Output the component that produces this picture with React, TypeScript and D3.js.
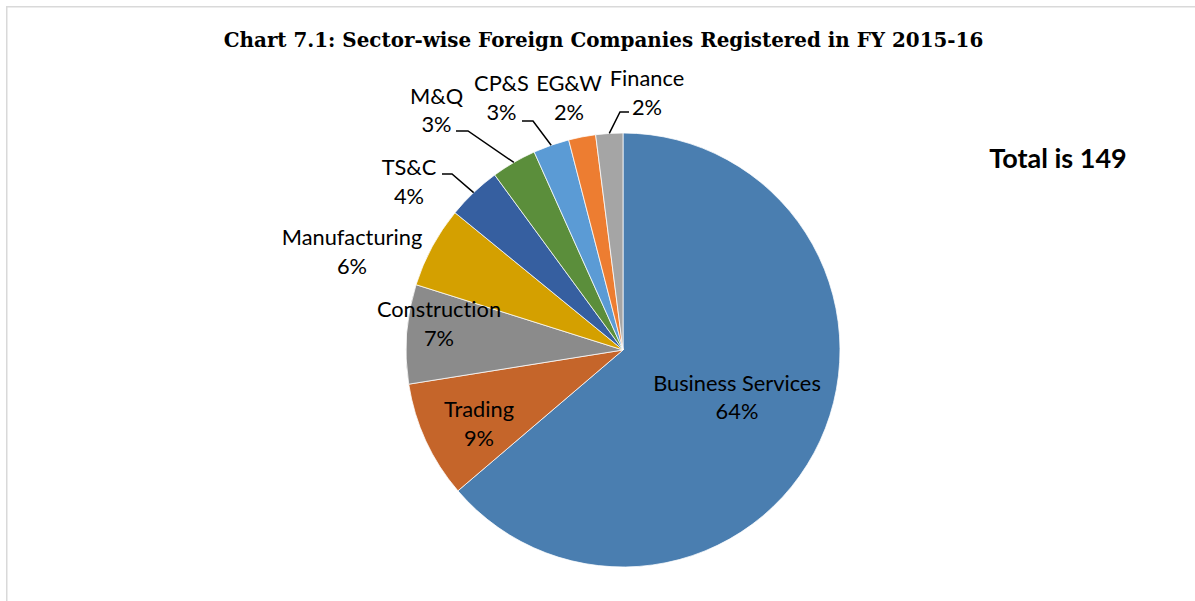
import React, { useEffect, useRef } from "react";
import * as d3 from "d3";

const categories = [
  "Business Services",
  "Trading",
  "Construction",
  "Manufacturing",
  "TS&C",
  "M&Q",
  "CP&S",
  "EG&W",
  "Finance",
];
const counts = [95, 13, 11, 9, 6, 5, 4, 3, 3];
const sliceColors = [
  "#4a7eb0",
  "#c5652a",
  "#8b8b8b",
  "#d4a000",
  "#365fa0",
  "#5b8e3b",
  "#5b9bd5",
  "#ed7d31",
  "#a5a5a5",
];
const titleText = "Chart 7.1: Sector-wise Foreign Companies Registered in FY 2015-16";
const totalText = "Total is 149";

// label layout: centre x, baseline of first line, optional leader (horizontal segment x1->x2 at y)
const labelLayout = [
  { x: 737, y: 390.5 },
  { x: 479, y: 417 },
  { x: 439, y: 317 },
  { x: 352, y: 245 },
  { x: 409, y: 175, leader: { x1: 442, x2: 452, y: 174 } },
  { x: 436.5, y: 103.5, leader: { x1: 456, x2: 468, y: 131 } },
  { x: 501.5, y: 91, leader: { x1: 522, x2: 533, y: 121 } },
  { x: 569, y: 91 },
  { x: 647, y: 86, leader: { x1: 629, x2: 620, y: 112 } },
];

const W = 1195;
const H = 601;
const CX = 623;
const CY = 350;
const R = 217;
const LINE = 28.5;
const FONT = "Lato, 'Open Sans', sans-serif";

export default function App() {
  const ref = useRef<SVGSVGElement | null>(null);

  useEffect(() => {
    const svg = d3.select(ref.current);
    svg.selectAll("*").remove();

    svg
      .append("rect")
      .attr("x", 0)
      .attr("y", 0)
      .attr("width", W)
      .attr("height", H)
      .attr("fill", "#fff");

    svg
      .append("rect")
      .attr("x", 6.75)
      .attr("y", 6.75)
      .attr("width", W + 100)
      .attr("height", H + 100)
      .attr("fill", "none")
      .attr("stroke", "#d9d9d9")
      .attr("stroke-width", 1.5);

    svg
      .append("text")
      .attr("x", 603.5)
      .attr("y", 46.5)
      .attr("text-anchor", "middle")
      .attr("font-family", "'DejaVu Serif', serif")
      .attr("font-weight", "bold")
      .attr("font-size", 19.9)
      .attr("fill", "#000")
      .text(titleText);

    svg
      .append("text")
      .attr("x", 1058)
      .attr("y", 167.5)
      .attr("text-anchor", "middle")
      .attr("font-family", FONT)
      .attr("font-weight", "bold")
      .attr("font-size", 27)
      .attr("fill", "#000")
      .text(totalText);

    const total = d3.sum(counts);
    const data = categories.map((c, i) => ({ name: c, value: counts[i], i }));
    const pie = d3
      .pie<any>()
      .sort(null)
      .value((d: any) => d.value)
      .startAngle(0)
      .endAngle(2 * Math.PI);
    const arcs = pie(data);
    const arc = d3.arc<any>().innerRadius(0).outerRadius(R);

    const g = svg.append("g").attr("transform", `translate(${CX},${CY})`);
    g.selectAll("path")
      .data(arcs)
      .enter()
      .append("path")
      .attr("d", arc as any)
      .attr("fill", (d: any) => sliceColors[d.data.i])
      .attr("stroke", "#fff")
      .attr("stroke-width", 0.75);

    // leader lines
    arcs.forEach((a: any) => {
      const lay = labelLayout[a.data.i];
      if (!lay.leader) return;
      const mid = (a.startAngle + a.endAngle) / 2;
      const px = CX + R * Math.sin(mid);
      const py = CY - R * Math.cos(mid);
      const l = lay.leader;
      svg
        .append("path")
        .attr("d", `M${l.x1},${l.y}L${l.x2},${l.y}L${px},${py}`)
        .attr("fill", "none")
        .attr("stroke", "#000")
        .attr("stroke-width", 1.5);
    });

    // labels
    arcs.forEach((a: any) => {
      const lay = labelLayout[a.data.i];
      const pct = Math.round((a.data.value / total) * 100) + "%";
      const t = svg
        .append("text")
        .attr("text-anchor", "middle")
        .attr("font-family", FONT)
        .attr("font-size", 21.8)
        .style("font-variant-ligatures", "none")
        .attr("fill", "#000");
      t.append("tspan").attr("x", lay.x).attr("y", lay.y).text(a.data.name);
      t.append("tspan").attr("x", lay.x).attr("y", lay.y + LINE).text(pct);
    });
  }, []);

  return (
    <svg
      ref={ref}
      width={W}
      height={H}
      style={{ position: "absolute", left: 0, top: 0, display: "block" }}
    />
  );
}
